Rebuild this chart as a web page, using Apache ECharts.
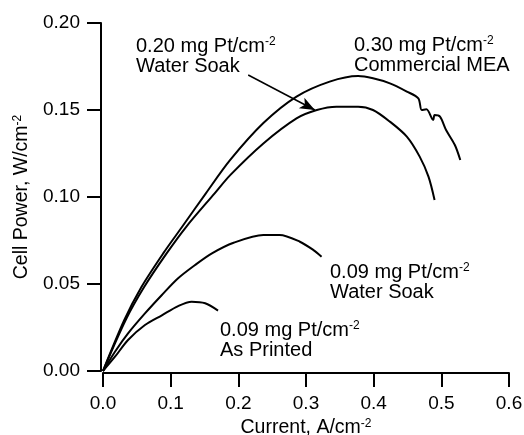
<!DOCTYPE html>
<html>
<head>
<meta charset="utf-8">
<script src="https://cdn.jsdelivr.net/npm/echarts@6/dist/echarts.min.js"></script>
<style>
  html, body { margin: 0; padding: 0; background: #fff; }
  #chart { width: 524px; height: 435px; }
</style>
</head>
<body>
<div id="chart"></div>
<script>
// Cell power density vs. current density for four MEAs
const xTicks = [0.0, 0.1, 0.2, 0.3, 0.4, 0.5, 0.6];
const yTicks = [0.00, 0.05, 0.10, 0.15, 0.20];

// [current A/cm², power W/cm²]
const commercialMEA = [
  [0, 0], [0.0315, 0.0293], [0.057, 0.0484], [0.089, 0.0676], [0.117, 0.0829],
  [0.152, 0.1021], [0.188, 0.1213], [0.237, 0.1425], [0.286, 0.1577],
  [0.335, 0.1663], [0.377, 0.1695], [0.399, 0.1682], [0.424, 0.1653],
  [0.449, 0.1606], [0.466, 0.1567], [0.471, 0.1500], [0.478, 0.1504],
  [0.488, 0.1443], [0.490, 0.1471], [0.498, 0.1462], [0.507, 0.1385],
  [0.520, 0.1299], [0.528, 0.1213]
];
const soak020 = [
  [0, 0], [0.0335, 0.0293], [0.061, 0.0484], [0.094, 0.0676], [0.123, 0.0829],
  [0.165, 0.1021], [0.188, 0.1126], [0.237, 0.1308], [0.286, 0.1452],
  [0.316, 0.1500], [0.345, 0.1519], [0.377, 0.1519], [0.399, 0.1500],
  [0.424, 0.1433], [0.449, 0.1347], [0.468, 0.1232], [0.481, 0.1117],
  [0.490, 0.0983]
];
const soak009 = [
  [0, 0], [0.0177, 0.0111], [0.037, 0.0216], [0.062, 0.0331], [0.087, 0.0437],
  [0.111, 0.0533], [0.136, 0.0609], [0.161, 0.0676], [0.193, 0.0737],
  [0.237, 0.0782], [0.261, 0.0782], [0.291, 0.0743], [0.311, 0.0695],
  [0.323, 0.0657]
];
const printed009 = [
  [0, 0], [0.0177, 0.0082], [0.037, 0.0178], [0.062, 0.0264], [0.087, 0.0320],
  [0.111, 0.0373], [0.131, 0.0398], [0.151, 0.0389], [0.170, 0.0347]
];

// Arrow pointing at the 0.20 mg curve
const arrowFrom = [0.2146, 0.1701];
const arrowTo = [0.3131, 0.1500];

const FONT = '"Liberation Sans", Arial, Helvetica, sans-serif';

function richFor(size) {
  return {
    a: { fontFamily: FONT, fontSize: size, color: '#000', lineHeight: 20 },
    s: { fontFamily: FONT, fontSize: 12, color: '#000', lineHeight: 11, verticalAlign: 'top' }
  };
}

function curve(name, data, extra) {
  return Object.assign({
    name: name,
    type: 'line',
    data: data,
    showSymbol: false,
    smooth: 0.3,
    lineStyle: { color: '#000', width: 2 },
    itemStyle: { color: '#000' },
    silent: true
  }, extra || {});
}

function note(x, y, line1, line2) {
  return {
    type: 'text',
    left: x,
    top: y,
    silent: true,
    style: {
      text: '{a|' + line1 + '}{s|-2}\n{a|' + line2 + '}',
      rich: richFor(20),
      fill: '#000'
    }
  };
}

const axisCommon = {
  type: 'value',
  offset: 2,
  nameLocation: 'middle',
  nameTextStyle: { rich: richFor(19.5) },
  axisLine: { show: true, onZero: false, lineStyle: { color: '#000', width: 2 } },
  axisTick: { show: true, length: 14, lineStyle: { color: '#000', width: 2 } },
  splitLine: { show: false }
};

const chart = echarts.init(document.getElementById('chart'), null, { renderer: 'canvas' });
chart.setOption({
  animation: false,
  backgroundColor: '#fff',
  grid: {
    left: 103, right: 15, top: 23, bottom: 64,
    containLabel: false,
    outerBoundsMode: 'none'
  },
  xAxis: Object.assign({}, axisCommon, {
    min: xTicks[0],
    max: xTicks[xTicks.length - 1],
    interval: 0.1,
    name: '{a|Current, A/cm}{s|-2}',
    nameGap: 44,
    axisLabel: {
      margin: 21, color: '#000', fontFamily: FONT, fontSize: 19,
      formatter: v => v.toFixed(1)
    }
  }),
  yAxis: Object.assign({}, axisCommon, {
    min: yTicks[0],
    max: yTicks[yTicks.length - 1],
    interval: 0.05,
    name: '{a|Cell Power, W/cm}{s|-2}',
    nameRotate: 90,
    nameGap: 69,
    axisLabel: {
      margin: 21, color: '#000', fontFamily: FONT, fontSize: 19,
      formatter: v => v.toFixed(2)
    }
  }),
  series: [
    curve('0.30 mg Commercial MEA', commercialMEA),
    curve('0.20 mg Water Soak', soak020, {
      markLine: {
        silent: true,
        symbol: ['none', 'arrow'],
        symbolSize: [9, 15],
        label: { show: false },
        lineStyle: { color: '#000', width: 1.5, type: 'solid' },
        emphasis: { disabled: true },
        data: [[{ coord: arrowFrom }, { coord: arrowTo }]]
      }
    }),
    curve('0.09 mg Water Soak', soak009),
    curve('0.09 mg As Printed', printed009)
  ],
  graphic: [
    note(136, 36, '0.20 mg Pt/cm', 'Water Soak'),
    note(354, 35, '0.30 mg Pt/cm', 'Commercial MEA'),
    note(330, 262, '0.09 mg Pt/cm', 'Water Soak'),
    note(220, 320, '0.09 mg Pt/cm', 'As Printed')
  ]
});
</script>
</body>
</html>
